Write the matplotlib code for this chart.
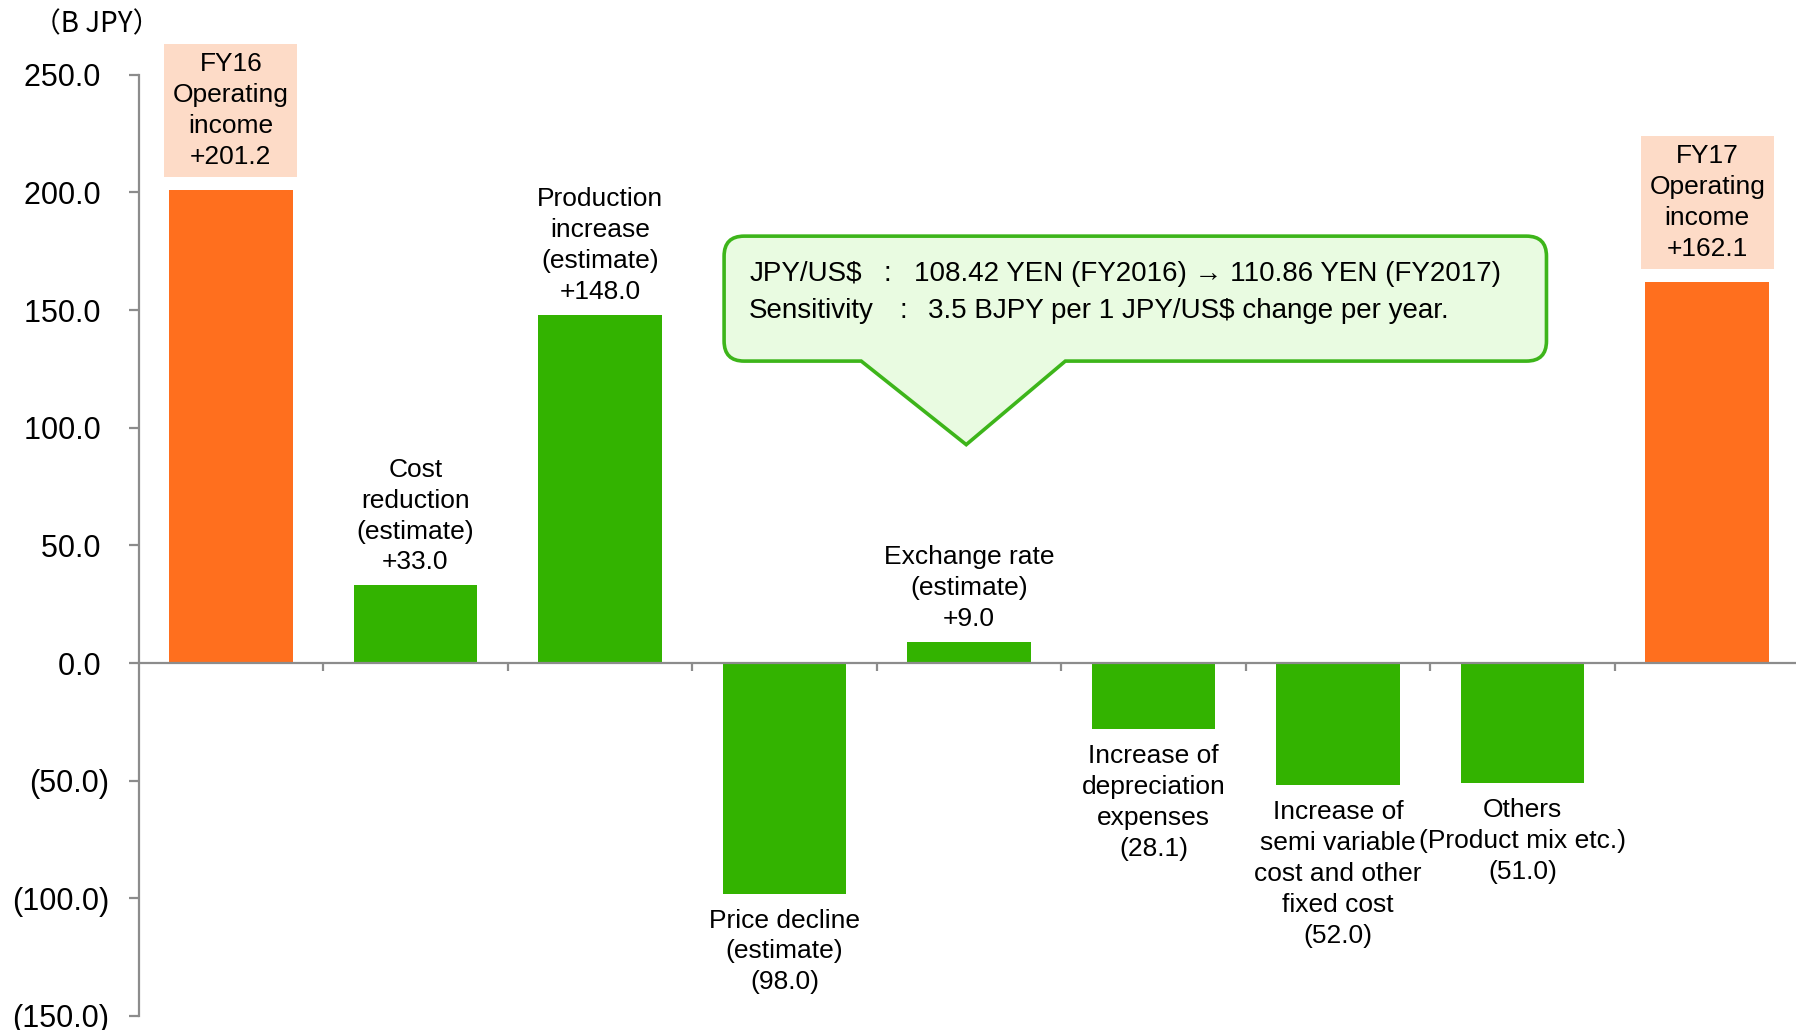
import matplotlib
matplotlib.use("Agg")
import matplotlib.pyplot as plt
from matplotlib.path import Path
from matplotlib.patches import PathPatch
from matplotlib.transforms import IdentityTransform

# ---------------- data ----------------
categories = [
    "FY16\nOperating\nincome",
    "Cost\nreduction\n(estimate)",
    "Production\nincrease\n(estimate)",
    "Price decline\n(estimate)",
    "Exchange rate\n(estimate)",
    "Increase of\ndepreciation\nexpenses",
    "Increase of\nsemi variable\ncost and other\nfixed cost",
    "Others\n(Product mix etc.)",
    "FY17\nOperating\nincome",
]
values = [201.2, 33.0, 148.0, -98.0, 9.0, -28.1, -52.0, -51.0, 162.1]
is_total = [True, False, False, False, False, False, False, False, True]
yticks = [-150, -100, -50, 0, 50, 100, 150, 200, 250]
unit_label = "（B JPY）"
callout_keys = ["JPY/US$", "Sensitivity"]
callout_vals = ["108.42 YEN (FY2016) \u2192 110.86 YEN (FY2017)",
                "3.5 BJPY per 1 JPY/US$ change per year."]

# ---------------- style ----------------
ORANGE = "#FF6F1E"
GREEN = "#33B300"
PEACH = "#FDDBC7"
AXGRAY = "#8C8C8C"
FONT = ["Liberation Sans", "DejaVu Sans"]
plt.rcParams["font.family"] = FONT
LS = 1.36

W, H = 1796, 1030
fig = plt.figure(figsize=(W / 100, H / 100), dpi=100)
ax = fig.add_axes([138.5 / W, 14 / H, 1661 / W, (1016 - 74.7) / H])

x = list(range(len(values)))
colors = [ORANGE if t else GREEN for t in is_total]
ax.bar(x, values, width=0.67, color=colors, zorder=2)

ax.set_xlim(-0.5, len(values) - 0.5)
ax.set_ylim(-150, 250)

for s in ["top", "right"]:
    ax.spines[s].set_visible(False)
ax.spines["left"].set_color(AXGRAY)
ax.spines["left"].set_linewidth(1.6)
ax.spines["bottom"].set_color(AXGRAY)
ax.spines["bottom"].set_linewidth(1.6)
ax.spines["bottom"].set_position(("data", 0))

ax.set_yticks(yticks)


def fmt(v):
    return f"{v:.1f} " if v >= 0 else f"({-v:.1f})"


ax.set_yticklabels([fmt(v) for v in yticks], fontsize=22)
ax.tick_params(axis="y", length=7, width=1.6, color=AXGRAY, pad=14, direction="out")
ax.set_xticks([i + 0.5 for i in x[:-1]])
ax.set_xticklabels([])
ax.tick_params(axis="x", length=6, width=1.6, color=AXGRAY, direction="out")


def vlabel(v):
    return f"+{v:.1f}" if v >= 0 else f"({-v:.1f})"


for i, (cat, v, tot) in enumerate(zip(categories, values, is_total)):
    txt = cat + "\n" + vlabel(v)
    if tot:
        ax.annotate(txt, xy=(i, v), xytext=(0, 21), textcoords="offset pixels",
                    ha="center", va="bottom", fontsize=19, linespacing=LS,
                    multialignment="center",
                    bbox=dict(boxstyle="square,pad=0.32", fc=PEACH, ec="none"))
    elif v >= 0:
        ax.annotate(txt, xy=(i, v), xytext=(0, 11), textcoords="offset pixels",
                    ha="center", va="bottom", fontsize=19, linespacing=LS,
                    multialignment="center")
    else:
        ax.annotate(txt, xy=(i, v), xytext=(0, -15), textcoords="offset pixels",
                    ha="center", va="top", fontsize=19, linespacing=LS,
                    multialignment="center")

# unit label
fig.text(33 / W, 1 - 24 / H, unit_label, fontsize=20, ha="left", va="center",
         family=["Noto Sans CJK JP", "DejaVu Sans"])

# ---------------- callout ----------------
fig.canvas.draw()
T = ax.transData
bx0, bx1, by0, by1 = 2.673, 7.129, 128.3, 181.4
px0, px1, tipx, tipy = 3.416, 4.522, 3.985, 92.8
(X0, Y0) = T.transform((bx0, by0))
(X1, Y1) = T.transform((bx1, by1))
(PX0, _) = T.transform((px0, by0))
(PX1, _) = T.transform((px1, by0))
(TX, TY) = T.transform((tipx, tipy))
r = 20
verts = [
    (X0 + r, Y0), (PX0, Y0), (TX, TY), (PX1, Y0), (X1 - r, Y0),
    (X1, Y0), (X1, Y0 + r),
    (X1, Y1 - r),
    (X1, Y1), (X1 - r, Y1),
    (X0 + r, Y1),
    (X0, Y1), (X0, Y1 - r),
    (X0, Y0 + r),
    (X0, Y0), (X0 + r, Y0),
    (X0 + r, Y0),
]
codes = [Path.MOVETO, Path.LINETO, Path.LINETO, Path.LINETO, Path.LINETO,
         Path.CURVE3, Path.CURVE3,
         Path.LINETO,
         Path.CURVE3, Path.CURVE3,
         Path.LINETO,
         Path.CURVE3, Path.CURVE3,
         Path.LINETO,
         Path.CURVE3, Path.CURVE3,
         Path.CLOSEPOLY]
patch = PathPatch(Path(verts, codes), facecolor="#E9FBE1", edgecolor="#3DB51A",
                  linewidth=2.6, transform=IdentityTransform(), zorder=5,
                  clip_on=False)
ax.add_patch(patch)

line_y = [165.4, 149.6]
key_x = 2.809
colon_x = [3.535, 3.622]
val_x = [3.703, 3.778]
for k in range(2):
    ax.text(key_x, line_y[k], callout_keys[k], fontsize=20, ha="left", va="center", zorder=6)
    ax.text(colon_x[k], line_y[k], ":", fontsize=20, ha="left", va="center", zorder=6)
    ax.text(val_x[k], line_y[k], callout_vals[k], fontsize=20, ha="left", va="center", zorder=6)

fig.savefig("out.png", dpi=100, facecolor="white")
